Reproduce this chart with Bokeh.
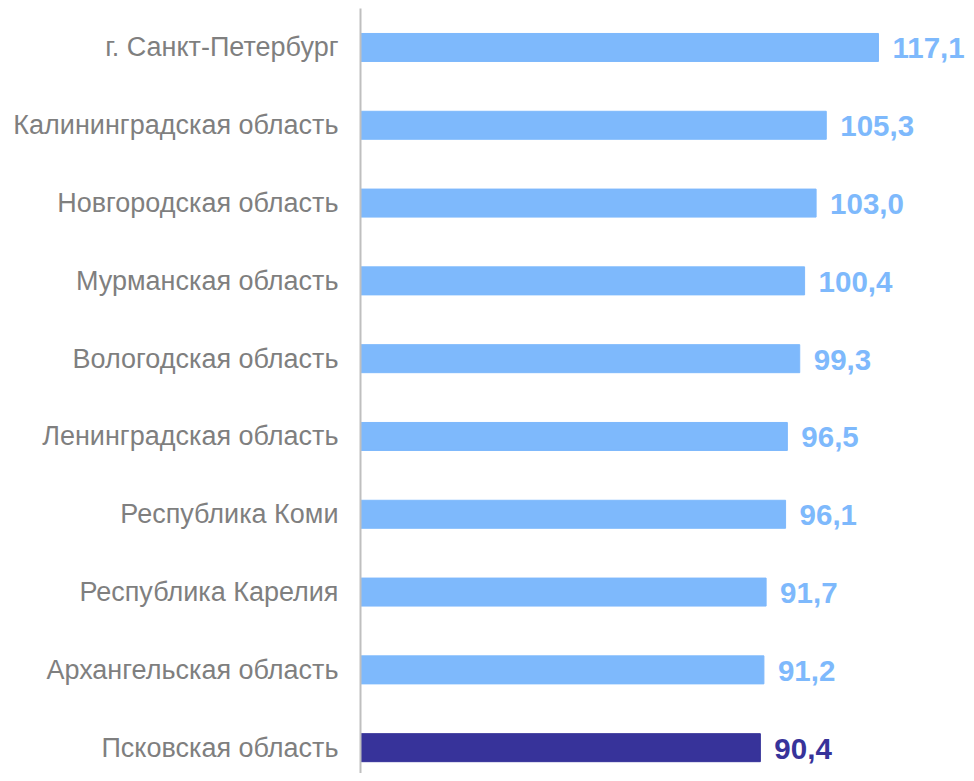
from bokeh.plotting import figure
from bokeh.models import ColumnDataSource, Range1d, FixedTicker
from bokeh.core.properties import value
from bokeh.embed import file_html
from bokeh.resources import INLINE

regions = [
    "г. Санкт-Петербург",
    "Калининградская область",
    "Новгородская область",
    "Мурманская область",
    "Вологодская область",
    "Ленинградская область",
    "Республика Коми",
    "Республика Карелия",
    "Архангельская область",
    "Псковская область",
]
values = [117.1, 105.3, 103.0, 100.4, 99.3, 96.5, 96.1, 91.7, 91.2, 90.4]
highlight = "Псковская область"

LIGHT = "#7EB9FC"
DARK = "#37339A"

n = len(regions)
ypos = [n - 1 - i for i in range(n)]
colors = [DARK if r == highlight else LIGHT for r in regions]
labels = [f"{v:.1f}".replace(".", ",") for v in values]

src = ColumnDataSource(dict(y=ypos, v=values, c=colors, lab=labels))

p = figure(width=966, height=773, output_backend="svg", toolbar_location=None,
           x_range=Range1d(0, 137.0), y_range=Range1d(-0.332, n - 0.499),
           min_border_left=360, min_border_right=0, min_border_top=8, min_border_bottom=0)

p.hbar(y="y", right="v", left=0, height=0.36, color="c", source=src)
p.text(x="v", y="y", text="lab", text_color="c", source=src, x_offset=14, y_offset=1,
       text_baseline="middle", text_align="left",
       text_font=value("Liberation Sans"), text_font_style="bold", text_font_size="29.5px")

p.xaxis.visible = False
p.yaxis.ticker = FixedTicker(ticks=ypos)
p.yaxis.major_label_overrides = {y: r for y, r in zip(ypos, regions)}
p.yaxis.major_label_text_font = "Liberation Sans"
p.yaxis.major_label_text_font_size = "27px"
p.yaxis.major_label_text_color = "#7F7F7F"
p.yaxis.major_tick_line_color = None
p.yaxis.minor_tick_line_color = None
p.yaxis.major_tick_out = 0
p.yaxis.major_label_standoff = 22
p.yaxis.axis_line_color = "#BFBFBF"
p.yaxis.axis_line_width = 2
p.xgrid.visible = False
p.ygrid.visible = False
p.outline_line_color = None

open("out.html", "w").write(file_html(p, INLINE))
